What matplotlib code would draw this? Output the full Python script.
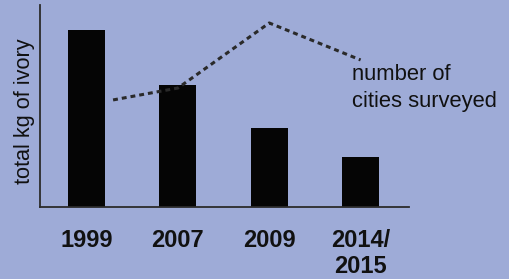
import matplotlib
matplotlib.use("Agg")
import matplotlib.pyplot as plt

# Data (arbitrary units)
years = ["1999", "2007", "2009", "2014/\n2015"]
ivory_kg = [87.6, 60.4, 39.1, 24.8]
city_pos = [0.29, 1.0, 2.0, 3.0]
cities_surveyed = [53.0, 58.9, 91.1, 72.8]

bg = "#9eabd7"
fig = plt.figure(figsize=(5.10, 2.79), dpi=100, facecolor=bg)
ax = fig.add_axes([40/510, 1-207/279, 369/510, 202/279])
ax.set_facecolor("none")

x = list(range(len(years)))
ax.bar(x, ivory_kg, width=0.405, color="#050505", zorder=2)
ax.plot(city_pos, cities_surveyed, color="#2a2a2a", lw=2.2,
        dashes=(1.6, 1.3), zorder=3, solid_capstyle="butt")

ax.set_xlim(-0.51, 3.53)
ax.set_ylim(0, 100)

for s in ["top", "right"]:
    ax.spines[s].set_visible(False)
for s in ["left", "bottom"]:
    ax.spines[s].set_color("#2b2b2b")
    ax.spines[s].set_linewidth(1.3)

ax.set_yticks([])
ax.set_xticks(x)
ax.set_xticklabels(years, fontsize=17, fontweight="bold",
                   family="Liberation Sans", color="#111111",
                   linespacing=1.2, va="top")
ax.tick_params(axis="x", length=0, pad=15.5)

fig.text(25/510, 1-111/279, "total kg of ivory", rotation=90,
         fontsize=15.6, family="Liberation Sans", color="#111111",
         ha="center", va="center")

fig.text(352/510, 1-80/279, "number of", fontsize=15.8,
         family="Liberation Sans", color="#111111", ha="left", va="baseline")
fig.text(352/510, 1-107/279, "cities surveyed", fontsize=15.8,
         family="Liberation Sans", color="#111111", ha="left", va="baseline")

fig.savefig("out.png", dpi=100, facecolor=bg)
